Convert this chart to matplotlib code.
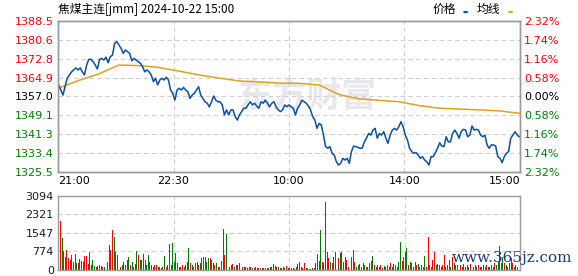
import matplotlib.pyplot as plt
import numpy as np

plt.rcParams['font.family'] = ['DejaVu Sans', 'Noto Sans CJK SC']

# price line (blue), read left to right
price = [1361.8, 1359.7, 1357.6, 1361.1, 1364.7, 1366.0, 1367.3, 1368.1, 1368.9, 1368.1,
         1368.9, 1367.3, 1366.0, 1370.1, 1372.5, 1372.5, 1371.5, 1370.1, 1368.5, 1372.5,
         1372.9, 1372.2, 1373.4, 1371.1, 1373.6, 1374.3, 1379.2, 1379.9, 1378.5, 1377.1,
         1375.0, 1376.4, 1375.7, 1375.0, 1371.9, 1372.9, 1372.2, 1371.5, 1370.9, 1369.4,
         1367.3, 1368.1, 1367.3, 1366.0, 1363.2, 1364.6, 1361.8, 1363.9, 1364.6, 1363.9,
         1365.0, 1363.9, 1359.7, 1358.3, 1355.5, 1359.7, 1360.4,
         1359.7, 1360.8, 1359.7, 1359.0, 1356.2, 1357.6, 1358.3, 1359.7, 1361.1, 1357.6,
         1356.2, 1354.8, 1354.2, 1352.7, 1354.8, 1357.2, 1355.5, 1354.8, 1354.8, 1353.5,
         1349.3, 1351.4, 1349.3, 1351.4, 1351.4, 1348.6, 1347.2, 1349.3, 1350.7, 1352.1,
         1352.1, 1353.5, 1354.8, 1353.5, 1354.2, 1353.0, 1352.1, 1354.8, 1354.2, 1355.5,
         1354.2, 1352.7, 1354.2, 1354.8, 1352.7, 1351.4, 1350.7, 1351.4, 1353.5,
         1352.7, 1353.5, 1352.7, 1352.1, 1349.3, 1352.1, 1353.5, 1355.5, 1354.8, 1354.2,
         1353.0, 1351.4, 1348.6, 1347.2, 1343.7, 1345.8, 1345.1, 1340.9, 1336.1, 1335.4,
         1336.1, 1333.3, 1332.6, 1329.8, 1328.4, 1329.1, 1331.2, 1330.5, 1331.2, 1329.1,
         1334.0, 1336.3, 1336.1, 1335.8, 1335.4, 1335.4, 1338.1, 1339.6, 1341.6, 1340.9,
         1343.0, 1343.7, 1339.6, 1341.6, 1340.9, 1342.3, 1339.6, 1337.5, 1340.9, 1343.0,
         1343.7, 1343.0, 1344.4, 1346.5, 1344.4, 1340.9, 1338.9,
         1335.4, 1334.0, 1333.3, 1333.6, 1332.6, 1331.2, 1331.9, 1330.5, 1329.8, 1328.4,
         1331.9, 1331.9, 1333.6, 1335.4, 1337.7, 1336.3, 1336.1, 1340.2, 1338.1, 1338.1,
         1341.6, 1343.0, 1341.6, 1339.6, 1342.3, 1343.3, 1343.0, 1340.2, 1340.9, 1344.7,
         1343.0, 1343.3, 1343.0, 1340.9, 1340.2, 1340.9, 1336.8, 1335.4, 1336.8, 1336.8,
         1336.3, 1331.9, 1331.2, 1329.4, 1331.9, 1333.3, 1334.0, 1339.6, 1340.9, 1342.3,
         1340.9, 1340.2]

# average line (orange), evenly spaced samples across the session
avg = [1360.5, 1363.7, 1366.4, 1370.1, 1369.9, 1369.1, 1367.6, 1366.0, 1364.7, 1363.5,
       1363.1, 1362.6, 1362.5, 1361.8, 1357.8, 1356.0, 1355.4, 1354.8, 1353.2, 1352.1,
       1351.8, 1351.4, 1351.0, 1350.0]

# volume bars, ten per row
volume = [2049, 1352, 795, 558, 836, 516, 418, 627, 321, 669,
          279, 279, 460, 376, 321, 585, 585, 251, 739, 209,
          418, 167, 139, 181, 209, 181, 139, 139, 209, 321,
          1046, 836, 1673, 1366, 767, 627, 655, 139, 209, 321,
          209, 418, 558, 209, 321, 139, 237, 795, 627, 418,
          418, 655, 418, 209, 627, 321, 209, 139, 209, 209,
          139, 139, 98, 139, 599, 139, 209, 1073, 209, 1115,
          349, 697, 279, 139, 139, 209, 139, 209, 349, 906,
          279, 209, 139, 279, 321, 209, 279, 516, 558, 558,
          321, 488, 488, 418, 279, 209, 279, 139, 139, 376,
          1715, 627, 1492, 209, 139, 209, 237, 139, 209, 209,
          279, 139, 139, 139, 139, 70, 139, 139, 70, 70,
          139, 98, 70, 70, 98, 70, 98, 70, 70, 139,
          139, 237, 181, 139, 139, 70, 70, 139, 98, 181,
          70, 70, 70,
          70, 42, 139, 237, 349, 139, 98, 279, 70, 70,
          42, 42, 70, 70, 279, 669, 376, 1673, 321, 279,
          2858, 767, 488, 349, 279, 558, 767, 1115, 488, 697,
          767, 349, 558, 418, 139, 209, 558, 836, 349, 139,
          209, 237, 139, 279, 209, 139, 139, 279, 376, 599,
          209, 139, 209, 139, 209, 98, 181, 139, 209, 139,
          279, 139, 237, 209, 139, 321, 1157, 376, 558, 767,
          906, 209, 349, 279, 139, 349, 209, 237, 139, 209,
          139, 599, 139, 1366, 209, 139, 418, 767, 209, 237,
          209, 139, 209, 627, 139, 209, 418, 139, 558, 279,
          209, 209, 139, 209, 139, 237, 139, 209, 139, 237,
          139, 139, 209, 139, 209, 139, 139, 209, 139, 209,
          139, 139, 209, 139, 279, 209, 349, 1018, 279, 558,
          279, 209, 139, 279, 488, 279, 139, 209, 139]

# bar colour: r = up (red), g = down (green), same rows as volume
vol_dir = ''.join([
    'rggrrrrrgr', 'grgrgrrrrg', 'ggrrrgrgrg', 'rrrgrggrgr', 'rggrgrggrg',
    'rrrggrgrrr', 'ggrrgrggrg', 'grrgrrrggg', 'rggrgrgrrr', 'ggrrgrgrgg',
    'rrgrgrrgrg', 'grrgrrgrgr', 'ggrgrggrrg', 'rggrgrgrgr', 'rgr',
    'rgrrggrrgr', 'ggrgggrgrr', 'ggrgrrrgrg', 'rggrrggrrg', 'ggrrgrgrrg',
    'rgrgrrgrrg', 'rgrrgggrgg', 'grgrrgrgrg', 'ggrrrgrrgr', 'grrrgrrgrg',
    'rrgrrrgrgr', 'grrgrrggrr', 'grrgrgggrg', 'rgrrrrgrg',
])

times = ['21:00', '22:30', '10:00', '14:00', '15:00']
price_ticks = [1388.5, 1380.6, 1372.8, 1364.9, 1357.0, 1349.1, 1341.3, 1333.4, 1325.5]
pct_ticks = ['2.32%', '1.74%', '1.16%', '0.58%', '0.00%', '0.58%', '1.16%', '1.74%', '2.32%']
vol_ticks = [0, 774, 1547, 2321, 3094]

RED = '#ff0000'
GREEN = '#008000'
BLUE = '#0a4fa3'
ORANGE = '#dca31e'
FRAME = '#9a9a9a'
GRID = '#cfcfcf'
FS = 8

fig = plt.figure(figsize=(5.78, 2.76), dpi=100)
ax = fig.add_axes([58 / 578, 1 - 172 / 276, 462 / 578, 151 / 276])
axv = fig.add_axes([58 / 578, 1 - 270 / 276, 462 / 578, 74 / 276])

n = len(price)
x = np.arange(n)

# watermark
ax.text(0.54, 0.5, '东方财富', transform=ax.transAxes, ha='center', va='center',
        fontsize=25, fontweight='bold', color='#e8e8ec', zorder=0,
        family=['Noto Sans CJK SC'])

ax.plot(x, price, color=BLUE, lw=1.1, zorder=3)
ax.plot(np.linspace(0, n - 1, len(avg)), avg, color=ORANGE, lw=1.1, zorder=2)

ax.set_xlim(-0.3, n - 0.7)
ax.set_ylim(price_ticks[-1], price_ticks[0])
ax.set_yticks(price_ticks)
ax.set_yticklabels([f'{v:.1f}' for v in price_ticks], fontsize=FS)
for i, lab in enumerate(ax.get_yticklabels()):
    lab.set_color(RED if i < 4 else ('black' if i == 4 else GREEN))

xt = np.linspace(-0.3, n - 0.7, 5)
ax.set_xticks(xt)
ax.set_xticklabels(times, fontsize=FS)
labs = ax.get_xticklabels()
labs[0].set_ha('left')
labs[-1].set_ha('right')
ax.tick_params(length=0, pad=3)
ax.grid(True, color=GRID, ls=(0, (4, 3)), lw=0.8)

axr = ax.twinx()
axr.set_ylim(ax.get_ylim())
axr.set_yticks(price_ticks)
axr.set_yticklabels(pct_ticks, fontsize=FS)
for i, lab in enumerate(axr.get_yticklabels()):
    lab.set_color(RED if i < 4 else ('black' if i == 4 else GREEN))
axr.tick_params(length=0, pad=3)

# volume
nv = len(volume)
cols = [RED if c == 'r' else GREEN for c in vol_dir[:nv]]
axv.bar(np.arange(nv), volume, width=0.6, color=cols, zorder=2)
axv.set_xlim(-1.5, nv + 0.5)
axv.set_ylim(0, vol_ticks[-1])
axv.set_yticks(vol_ticks)
axv.set_yticklabels([str(v) for v in vol_ticks], fontsize=FS, color='#1a1a2a')
axv.get_yticklabels()[0].set_va('center_baseline')
axv.set_xticks(np.linspace(-1.5, nv + 0.5, 5))
axv.set_xticklabels([])
axv.tick_params(length=0, pad=3)
axv.grid(True, color=GRID, ls=(0, (4, 3)), lw=0.8)

for a in (ax, axr, axv):
    for s in a.spines.values():
        s.set_color(FRAME)
        s.set_linewidth(1.0)

# header
fig.text(58 / 578, 1 - 9 / 276, '焦煤主连[jmm] 2024-10-22 15:00', ha='left', va='center',
         fontsize=8.5, family=['Noto Sans CJK SC', 'DejaVu Sans'])
fig.text(456 / 578, 1 - 9 / 276, '价格', ha='right', va='center', fontsize=8.5,
         family=['Noto Sans CJK SC'])
fig.text(465 / 578, 1 - 12 / 276, '▬', ha='center', va='center', fontsize=4, color=BLUE)
fig.text(500 / 578, 1 - 9 / 276, '均线', ha='right', va='center', fontsize=8.5,
         family=['Noto Sans CJK SC'])
fig.text(510 / 578, 1 - 12 / 276, '▬', ha='center', va='center', fontsize=4, color=ORANGE)

fig.text(572 / 578, 1 - 258 / 276, 'www.365jz.com', ha='right', va='center',
         fontsize=11, color='#1d3b7c', family=['DejaVu Serif'])

fig.savefig('out.png', dpi=100)
